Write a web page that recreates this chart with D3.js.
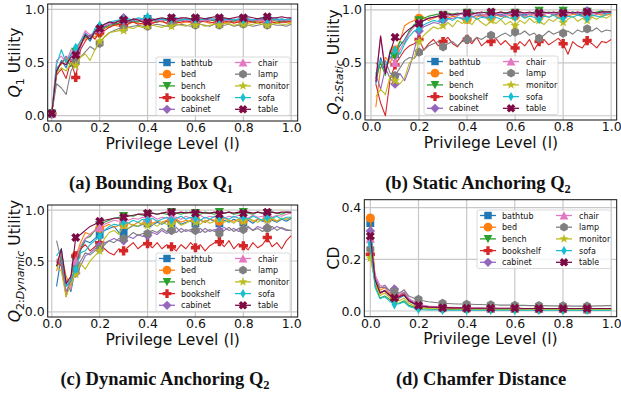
<!DOCTYPE html>
<html>
<head>
<meta charset="utf-8">
<script src="https://cdn.jsdelivr.net/npm/d3@7"></script>
<style>
body { margin: 0; background: #fff; }
svg { display: block; }
</style>
</head>
<body>
<script>
// Nivel de privilegio (eje x), comun a los cuatro paneles
const levels = [0.00,0.02,0.04,0.06,0.08,0.10,0.12,0.14,0.16,0.18,
                0.20,0.22,0.24,0.26,0.28,0.30,0.32,0.34,0.36,0.38,
                0.40,0.42,0.44,0.46,0.48,0.50,0.52,0.54,0.56,0.58,
                0.60,0.62,0.64,0.66,0.68,0.70,0.72,0.74,0.76,0.78,
                0.80,0.82,0.84,0.86,0.88,0.90,0.92,0.94,0.96,0.98,
                1.00];
const categories = ["bathtub","bed","bench","bookshelf","cabinet","chair","lamp","monitor","sofa","table"];
const colors = ["#1f77b4","#ff7f0e","#2ca02c","#d62728","#9467bd","#e377c2","#7f7f7f","#bcbd22","#17becf","#7d0a45"];
const shapes = ["s","o","v","P","D","^","h","*","d","X"];
const xTicks = [0.0,0.2,0.4,0.6,0.8,1.0];
const yTicksUtility = [0.0,0.5,1.0];
const yTicksCD = [0.0,0.2,0.4];
const markerIdx = [0,5,10,15,20,25,30,35,40,45];

// (a) Bounding Box Q1
const q1_bathtub = [0.02,0.40,0.52,0.45,0.58,0.60,0.66,0.75,0.70,0.78, 0.80,0.84,0.83,0.86,0.87,0.88,0.89,0.88,0.89,0.90, 0.91,0.89,0.90,0.91,0.90,0.89,0.90,0.91,0.90,0.89, 0.91,0.90,0.90,0.91,0.89,0.90,0.91,0.90,0.89,0.90, 0.91,0.90,0.90,0.89,0.91,0.90,0.90,0.91,0.90,0.90, 0.91];
const q1_bed = [0.02,0.45,0.48,0.55,0.50,0.57,0.68,0.72,0.76,0.74, 0.78,0.82,0.84,0.85,0.84,0.87,0.86,0.88,0.87,0.86, 0.88,0.87,0.89,0.88,0.87,0.88,0.89,0.87,0.88,0.88, 0.87,0.89,0.88,0.87,0.88,0.89,0.88,0.87,0.88,0.89, 0.88,0.87,0.88,0.89,0.88,0.87,0.88,0.88,0.89,0.88, 0.88];
const q1_bench = [0.02,0.42,0.50,0.53,0.46,0.60,0.70,0.74,0.72,0.80, 0.76,0.83,0.85,0.86,0.87,0.88,0.87,0.89,0.88,0.89, 0.89,0.90,0.88,0.89,0.90,0.89,0.88,0.90,0.89,0.89, 0.90,0.88,0.89,0.90,0.89,0.89,0.90,0.88,0.89,0.90, 0.89,0.89,0.88,0.90,0.89,0.89,0.90,0.89,0.88,0.89, 0.89];
const q1_bookshelf = [0.02,0.38,0.44,0.35,0.52,0.36,0.62,0.70,0.76,0.72, 0.78,0.80,0.83,0.85,0.86,0.85,0.87,0.88,0.86,0.87, 0.88,0.87,0.88,0.89,0.87,0.88,0.87,0.88,0.89,0.88, 0.87,0.88,0.89,0.88,0.87,0.88,0.88,0.89,0.87,0.88, 0.88,0.89,0.88,0.87,0.88,0.89,0.88,0.87,0.88,0.88, 0.89];
const q1_cabinet = [0.02,0.44,0.50,0.56,0.52,0.58,0.64,0.78,0.74,0.79, 0.81,0.84,0.86,0.87,0.89,0.92,0.90,0.89,0.91,0.90, 0.91,0.90,0.89,0.91,0.90,0.91,0.90,0.89,0.91,0.90, 0.90,0.91,0.89,0.90,0.91,0.90,0.89,0.91,0.90,0.90, 0.91,0.90,0.90,0.89,0.91,0.90,0.91,0.90,0.89,0.90, 0.90];
const q1_chair = [0.02,0.52,0.56,0.50,0.62,0.60,0.70,0.80,0.76,0.78, 0.82,0.85,0.87,0.88,0.89,0.90,0.89,0.91,0.90,0.89, 0.90,0.91,0.90,0.89,0.91,0.90,0.90,0.91,0.89,0.90, 0.91,0.90,0.89,0.90,0.91,0.90,0.90,0.89,0.91,0.90, 0.90,0.91,0.90,0.90,0.89,0.91,0.90,0.90,0.91,0.90, 0.90];
const q1_lamp = [0.02,0.30,0.26,0.20,0.42,0.50,0.55,0.60,0.65,0.62, 0.68,0.74,0.78,0.80,0.82,0.82,0.83,0.84,0.85,0.84, 0.84,0.85,0.86,0.85,0.84,0.86,0.85,0.86,0.85,0.84, 0.85,0.86,0.85,0.84,0.86,0.85,0.85,0.86,0.84,0.85, 0.86,0.85,0.84,0.85,0.86,0.85,0.86,0.85,0.85,0.84, 0.86];
const q1_monitor = [0.02,0.40,0.45,0.42,0.50,0.47,0.55,0.58,0.52,0.62, 0.70,0.74,0.78,0.79,0.80,0.80,0.83,0.82,0.84,0.83, 0.84,0.85,0.84,0.83,0.85,0.84,0.86,0.85,0.84,0.86, 0.85,0.86,0.84,0.85,0.86,0.85,0.87,0.86,0.85,0.86, 0.86,0.85,0.86,0.87,0.86,0.85,0.86,0.87,0.86,0.86, 0.87];
const q1_sofa = [0.02,0.48,0.62,0.50,0.58,0.64,0.70,0.77,0.72,0.82, 0.85,0.86,0.88,0.89,0.90,0.90,0.91,0.90,0.92,0.91, 0.93,0.91,0.90,0.91,0.90,0.91,0.92,0.90,0.91,0.90, 0.91,0.90,0.91,0.92,0.90,0.91,0.90,0.91,0.90,0.91, 0.90,0.91,0.90,0.91,0.92,0.90,0.91,0.90,0.91,0.90, 0.91];
const q1_table = [0.02,0.42,0.50,0.48,0.55,0.57,0.66,0.76,0.72,0.79, 0.82,0.86,0.88,0.87,0.89,0.90,0.89,0.91,0.90,0.88, 0.88,0.90,0.91,0.92,0.91,0.92,0.91,0.92,0.92,0.91, 0.92,0.92,0.91,0.92,0.93,0.92,0.92,0.91,0.92,0.93, 0.92,0.93,0.92,0.91,0.92,0.93,0.92,0.92,0.93,0.92, 0.92];

// (b) Static Anchoring Q2
const q2s_bathtub = [null,0.30,0.55,0.40,0.62,0.58,0.66,0.72,0.80,0.86, 0.88,0.90,0.92,0.93,0.94,0.95,0.94,0.96,0.95,0.96, 0.95,0.96,0.97,0.95,0.96,0.97,0.96,0.95,0.97,0.96, 0.97,0.96,0.95,0.97,0.96,0.97,0.96,0.97,0.95,0.96, 0.97,0.96,0.97,0.96,0.95,0.97,0.96,0.97,0.96,0.97, 0.97];
const q2s_bed = [null,0.08,0.45,0.55,0.50,0.62,0.70,0.85,0.88,0.90, 0.92,0.93,0.90,0.92,0.94,0.93,0.92,0.94,0.93,0.92, 0.91,0.94,0.93,0.95,0.94,0.93,0.95,0.94,0.93,0.95, 0.94,0.95,0.93,0.94,0.96,0.94,0.95,0.93,0.95,0.94, 0.95,0.94,0.96,0.95,0.94,0.95,0.94,0.96,0.95,0.95, 0.96];
const q2s_bench = [null,0.35,0.50,0.38,0.60,0.56,0.70,0.68,0.80,0.86, 0.90,0.92,0.94,0.95,0.96,0.95,0.97,0.96,0.97,0.96, 0.97,0.98,0.96,0.97,0.98,0.97,0.96,0.98,0.97,0.98, 0.97,0.98,0.97,0.96,0.98,0.99,0.97,0.98,0.97,0.98, 0.99,0.97,0.98,0.97,0.98,0.98,0.97,0.98,0.99,0.98, 0.98];
const q2s_bookshelf = [null,0.30,0.12,0.00,0.35,0.48,0.55,0.62,0.66,0.68, 0.72,0.62,0.68,0.72,0.66,0.70,0.74,0.68,0.65,0.71, 0.72,0.68,0.74,0.66,0.70,0.70,0.73,0.67,0.71,0.66, 0.64,0.70,0.66,0.72,0.62,0.70,0.72,0.67,0.70,0.73, 0.68,0.58,0.70,0.66,0.64,0.71,0.68,0.64,0.70,0.69, 0.72];
const q2s_cabinet = [null,0.40,0.25,0.45,0.35,0.30,0.40,0.33,0.45,0.62, 0.80,0.84,0.86,0.88,0.87,0.90,0.91,0.92,0.93,0.92, 0.94,0.93,0.95,0.94,0.93,0.95,0.96,0.94,0.95,0.96, 0.95,0.96,0.94,0.96,0.97,0.95,0.96,0.97,0.96,0.97, 0.96,0.97,0.98,0.96,0.97,0.99,0.97,0.96,0.98,0.97, 0.98];
const q2s_chair = [null,0.35,0.76,0.45,0.55,0.50,0.62,0.70,0.78,0.84, 0.88,0.90,0.92,0.93,0.94,0.95,0.94,0.96,0.95,0.96, 0.96,0.95,0.97,0.96,0.95,0.97,0.96,0.97,0.95,0.96, 0.97,0.96,0.97,0.96,0.95,0.97,0.96,0.97,0.96,0.97, 0.96,0.97,0.96,0.98,0.97,0.96,0.97,0.96,0.97,0.98, 0.97];
const q2s_lamp = [null,0.50,0.45,0.52,0.40,0.38,0.45,0.52,0.55,0.54, 0.60,0.62,0.66,0.68,0.70,0.65,0.68,0.70,0.66,0.70, 0.72,0.70,0.74,0.72,0.75,0.76,0.73,0.76,0.78,0.75, 0.79,0.77,0.80,0.76,0.78,0.73,0.76,0.80,0.77,0.79, 0.78,0.80,0.77,0.81,0.79,0.82,0.80,0.83,0.79,0.81, 0.80];
const q2s_monitor = [null,0.18,0.25,0.20,0.38,0.33,0.30,0.36,0.50,0.55, 0.70,0.76,0.80,0.84,0.82,0.85,0.88,0.84,0.90,0.87, 0.90,0.86,0.92,0.88,0.85,0.90,0.87,0.91,0.86,0.89, 0.85,0.90,0.87,0.92,0.88,0.90,0.86,0.91,0.89,0.93, 0.88,0.91,0.94,0.89,0.92,0.90,0.93,0.91,0.94,0.92, 0.95];
const q2s_sofa = [null,0.40,0.52,0.48,0.55,0.62,0.58,0.68,0.75,0.80, 0.82,0.86,0.88,0.90,0.89,0.91,0.92,0.90,0.93,0.91, 0.92,0.94,0.91,0.93,0.92,0.94,0.93,0.91,0.94,0.92, 0.93,0.95,0.92,0.94,0.93,0.91,0.94,0.93,0.95,0.92, 0.92,0.94,0.93,0.95,0.94,0.92,0.95,0.94,0.93,0.96, 0.97];
const q2s_table = [null,0.32,0.75,0.40,0.60,0.74,0.72,0.78,0.82,0.85, 0.87,0.90,0.92,0.93,0.94,0.95,0.96,0.95,0.96,0.97, 0.97,0.96,0.97,0.98,0.97,0.98,0.97,0.98,0.97,0.98, 0.97,0.98,0.97,0.98,0.97,0.97,0.98,0.97,0.98,0.97, 0.97,0.98,0.97,0.98,0.97,0.98,0.98,0.97,0.98,0.98, 0.98];

// (c) Dynamic Anchoring Q2
const q2d_bathtub = [null,0.25,0.55,0.30,0.20,0.45,0.60,0.70,0.68,0.72, 0.76,0.80,0.82,0.84,0.78,0.78,0.82,0.85,0.84,0.86, 0.87,0.85,0.88,0.86,0.89,0.87,0.90,0.86,0.88,0.89, 0.87,0.90,0.88,0.91,0.89,0.87,0.90,0.88,0.91,0.89, 0.88,0.90,0.87,0.91,0.89,0.92,0.90,0.88,0.91,0.89, 0.92];
const q2d_bed = [null,0.40,0.58,0.35,0.25,0.55,0.68,0.78,0.76,0.80, 0.82,0.84,0.86,0.83,0.85,0.86,0.87,0.85,0.88,0.86, 0.88,0.87,0.89,0.88,0.90,0.89,0.91,0.88,0.90,0.89, 0.91,0.90,0.88,0.91,0.90,0.89,0.92,0.90,0.89,0.91, 0.90,0.92,0.89,0.91,0.90,0.92,0.91,0.89,0.92,0.91, 0.93];
const q2d_bench = [null,0.45,0.52,0.28,0.22,0.50,0.62,0.72,0.74,0.80, 0.85,0.88,0.90,0.92,0.93,0.94,0.95,0.94,0.96,0.95, 0.96,0.97,0.96,0.97,0.96,0.98,0.97,0.96,0.98,0.97, 0.97,0.96,0.98,0.97,0.96,0.98,0.97,0.98,0.96,0.97, 0.98,0.97,0.96,0.98,0.97,0.97,0.98,0.97,0.96,0.98, 0.97];
const q2d_bookshelf = [null,0.50,0.45,0.15,0.35,0.55,0.62,0.66,0.60,0.64, 0.68,0.62,0.58,0.56,0.62,0.60,0.64,0.68,0.62,0.66, 0.67,0.63,0.68,0.62,0.66,0.64,0.60,0.66,0.62,0.68, 0.63,0.66,0.60,0.65,0.68,0.69,0.64,0.70,0.62,0.67, 0.65,0.61,0.68,0.63,0.66,0.73,0.64,0.68,0.62,0.70, 0.75];
const q2d_cabinet = [null,0.52,0.48,0.20,0.30,0.38,0.45,0.55,0.58,0.62, 0.65,0.68,0.70,0.72,0.70,0.70,0.74,0.72,0.76,0.74, 0.75,0.78,0.76,0.80,0.77,0.80,0.78,0.82,0.79,0.81, 0.80,0.78,0.82,0.79,0.81,0.80,0.83,0.80,0.82,0.79, 0.81,0.83,0.80,0.84,0.82,0.83,0.81,0.84,0.82,0.80, 0.80];
const q2d_chair = [null,0.48,0.60,0.30,0.22,0.50,0.65,0.72,0.76,0.80, 0.83,0.86,0.88,0.90,0.89,0.91,0.90,0.92,0.91,0.93, 0.92,0.94,0.91,0.93,0.92,0.94,0.93,0.91,0.94,0.92, 0.93,0.95,0.92,0.94,0.93,0.95,0.92,0.94,0.93,0.95, 0.94,0.92,0.95,0.93,0.94,0.96,0.93,0.95,0.94,0.96, 0.97];
const q2d_lamp = [null,0.70,0.50,0.25,0.30,0.42,0.50,0.58,0.56,0.60, 0.62,0.66,0.70,0.68,0.72,0.72,0.74,0.78,0.75,0.77, 0.77,0.80,0.78,0.82,0.79,0.80,0.83,0.78,0.81,0.79, 0.80,0.82,0.78,0.81,0.79,0.77,0.80,0.83,0.79,0.82, 0.81,0.84,0.80,0.82,0.79,0.82,0.84,0.80,0.83,0.81, 0.80];
const q2d_monitor = [null,0.45,0.40,0.15,0.28,0.37,0.48,0.42,0.50,0.55, 0.60,0.72,0.78,0.80,0.76,0.85,0.82,0.86,0.84,0.88, 0.85,0.87,0.84,0.88,0.86,0.86,0.89,0.85,0.87,0.90, 0.88,0.86,0.90,0.87,0.89,0.91,0.88,0.90,0.87,0.91, 0.89,0.92,0.90,0.88,0.91,0.90,0.93,0.89,0.92,0.91, 0.93];
const q2d_sofa = [null,0.55,0.62,0.25,0.32,0.42,0.58,0.60,0.66,0.70, 0.74,0.80,0.84,0.86,0.85,0.88,0.87,0.90,0.88,0.91, 0.90,0.92,0.89,0.91,0.93,0.90,0.92,0.94,0.91,0.93, 0.92,0.90,0.93,0.91,0.94,0.92,0.93,0.91,0.94,0.92, 0.93,0.91,0.94,0.92,0.90,0.93,0.92,0.94,0.91,0.93, 0.93];
const q2d_table = [null,0.45,0.62,0.28,0.35,0.73,0.76,0.80,0.84,0.86, 0.89,0.90,0.91,0.92,0.92,0.93,0.94,0.95,0.96,0.96, 0.97,0.97,0.96,0.97,0.98,0.98,0.97,0.98,0.97,0.98, 0.97,0.98,0.97,0.97,0.98,0.96,0.97,0.98,0.97,0.98, 0.97,0.98,0.97,0.98,0.97,0.98,0.98,0.97,0.98,0.98, 0.98];

// (d) Chamfer Distance
const cd_bathtub = [0.340,0.120,0.070,0.080,0.060,0.058,0.050,0.060,0.038,0.028, 0.020,0.017,0.015,0.014,0.013,0.012,0.011,0.011,0.010,0.010, 0.010,0.009,0.009,0.009,0.009,0.008,0.008,0.008,0.008,0.008, 0.008,0.008,0.007,0.007,0.007,0.007,0.007,0.007,0.007,0.007, 0.007,0.007,0.007,0.007,0.006,0.006,0.006,0.006,0.006,0.006, 0.006];
const cd_bed = [0.360,0.130,0.080,0.090,0.068,0.062,0.058,0.070,0.045,0.032, 0.022,0.019,0.017,0.015,0.014,0.013,0.012,0.012,0.011,0.011, 0.011,0.010,0.010,0.010,0.009,0.009,0.009,0.009,0.009,0.009, 0.009,0.008,0.008,0.008,0.008,0.008,0.008,0.008,0.008,0.008, 0.008,0.008,0.007,0.007,0.007,0.007,0.007,0.007,0.007,0.007, 0.007];
const cd_bench = [0.270,0.100,0.050,0.058,0.045,0.032,0.030,0.040,0.022,0.016, 0.011,0.009,0.008,0.007,0.007,0.006,0.006,0.006,0.005,0.005, 0.005,0.005,0.005,0.005,0.005,0.005,0.005,0.005,0.005,0.005, 0.005,0.005,0.005,0.005,0.005,0.005,0.005,0.005,0.005,0.005, 0.004,0.004,0.004,0.004,0.004,0.004,0.004,0.004,0.004,0.004, 0.004];
const cd_bookshelf = [0.220,0.110,0.068,0.078,0.060,0.050,0.058,0.066,0.040,0.030, 0.020,0.017,0.015,0.014,0.013,0.012,0.012,0.011,0.011,0.011, 0.010,0.010,0.010,0.010,0.010,0.010,0.010,0.010,0.010,0.010, 0.010,0.010,0.009,0.009,0.009,0.009,0.009,0.009,0.009,0.009, 0.009,0.009,0.009,0.009,0.009,0.009,0.009,0.009,0.009,0.009, 0.009];
const cd_cabinet = [0.310,0.130,0.090,0.100,0.078,0.085,0.062,0.072,0.045,0.034, 0.025,0.021,0.018,0.016,0.015,0.014,0.013,0.013,0.012,0.012, 0.012,0.011,0.011,0.011,0.011,0.010,0.010,0.010,0.010,0.010, 0.010,0.010,0.010,0.009,0.009,0.009,0.009,0.009,0.009,0.009, 0.009,0.009,0.009,0.009,0.009,0.009,0.009,0.009,0.009,0.009, 0.009];
const cd_chair = [0.280,0.140,0.100,0.092,0.072,0.070,0.062,0.082,0.050,0.038, 0.026,0.022,0.019,0.017,0.016,0.015,0.014,0.014,0.013,0.013, 0.012,0.012,0.012,0.012,0.011,0.011,0.011,0.011,0.011,0.011, 0.011,0.011,0.010,0.010,0.010,0.010,0.010,0.010,0.010,0.010, 0.010,0.010,0.010,0.010,0.010,0.010,0.010,0.010,0.010,0.010, 0.010];
const cd_lamp = [0.240,0.120,0.090,0.092,0.080,0.075,0.070,0.082,0.058,0.050, 0.045,0.040,0.036,0.034,0.032,0.030,0.029,0.028,0.027,0.027, 0.026,0.026,0.025,0.025,0.024,0.024,0.024,0.023,0.023,0.023, 0.022,0.022,0.022,0.021,0.021,0.021,0.021,0.020,0.020,0.020, 0.020,0.020,0.019,0.019,0.019,0.019,0.019,0.020,0.020,0.021, 0.021];
const cd_monitor = [0.205,0.110,0.060,0.070,0.052,0.045,0.040,0.050,0.030,0.020, 0.014,0.012,0.010,0.009,0.009,0.008,0.008,0.008,0.007,0.007, 0.007,0.007,0.007,0.007,0.007,0.007,0.007,0.007,0.007,0.007, 0.007,0.007,0.007,0.006,0.006,0.006,0.006,0.006,0.006,0.006, 0.006,0.006,0.006,0.006,0.006,0.006,0.006,0.006,0.006,0.006, 0.006];
const cd_sofa = [0.260,0.090,0.048,0.055,0.038,0.025,0.028,0.035,0.018,0.012, 0.007,0.005,0.004,0.004,0.004,0.003,0.003,0.003,0.003,0.003, 0.003,0.003,0.003,0.003,0.003,0.003,0.003,0.003,0.003,0.003, 0.003,0.003,0.003,0.003,0.003,0.003,0.003,0.003,0.003,0.003, 0.003,0.003,0.003,0.003,0.003,0.003,0.003,0.003,0.003,0.003, 0.003];
const cd_table = [0.290,0.120,0.072,0.078,0.062,0.050,0.055,0.062,0.040,0.030, 0.021,0.018,0.016,0.015,0.014,0.013,0.013,0.012,0.012,0.012, 0.011,0.011,0.011,0.011,0.011,0.011,0.011,0.011,0.011,0.011, 0.011,0.011,0.010,0.010,0.010,0.010,0.010,0.010,0.010,0.010, 0.010,0.010,0.010,0.010,0.010,0.010,0.010,0.010,0.010,0.010, 0.010];

var W = 621, H = 395;
var svg = d3.select("body").append("svg")
            .attr("width", W).attr("height", H)
            .style("font-family", "'DejaVu Sans', sans-serif");

// Paneles: posiciones del area de datos y textos
var panels = [
  { id: "a", series: [q1_bathtub,q1_bed,q1_bench,q1_bookshelf,q1_cabinet,q1_chair,q1_lamp,q1_monitor,q1_sofa,q1_table],
    left: 47.7, right: 297.7, top: 4, bottom: 121, xDom: [-0.017, 1.027], yDom: [-0.05, 1.05], yTicks: yTicksUtility,
    legend: [156, 57], ylab: [20, 62.5], ysub: "1", yital: "", ytail: " Utility",
    title: [151, 189, "(a) Bounding Box Q", "1"] },
  { id: "b", series: [q2s_bathtub,q2s_bed,q2s_bench,q2s_bookshelf,q2s_cabinet,q2s_chair,q2s_lamp,q2s_monitor,q2s_sofa,q2s_table],
    left: 365, right: 616.7, top: 4.5, bottom: 120, xDom: [-0.025, 1.023], yDom: [-0.04, 1.05], yTicks: yTicksUtility,
    legend: [424, 56], ylab: [339, 62], ysub: "2:", yital: "Static", ytail: " Utility",
    title: [478, 189, "(b) Static Anchoring Q", "2"] },
  { id: "c", series: [q2d_bathtub,q2d_bed,q2d_bench,q2d_bookshelf,q2d_cabinet,q2d_chair,q2d_lamp,q2d_monitor,q2d_sofa,q2d_table],
    left: 47.7, right: 297.7, top: 205, bottom: 317, xDom: [-0.017, 1.027], yDom: [-0.05, 1.05], yTicks: yTicksUtility,
    legend: [156, 253], ylab: [20, 261], ysub: "2:", yital: "Dynamic", ytail: " Utility",
    title: [165, 385, "(c) Dynamic Anchoring Q", "2"] },
  { id: "d", series: [cd_bathtub,cd_bed,cd_bench,cd_bookshelf,cd_cabinet,cd_chair,cd_lamp,cd_monitor,cd_sofa,cd_table],
    left: 364.3, right: 616.7, top: 199.7, bottom: 316.7, xDom: [-0.025, 1.023], yDom: [-0.022, 0.431], yTicks: yTicksCD,
    legend: [477, 210], ylab: [339, 258], ysub: null, yital: "", ytail: "CD",
    title: [481, 385, "(d) Chamfer Distance", null] }
];

// Formas de marcador al estilo matplotlib
function markerPath(shape, k) {
  var r = 4.6 * k;
  function poly(pts) { return "M" + pts.map(function(p) { return p[0].toFixed(2) + "," + p[1].toFixed(2); }).join("L") + "Z"; }
  function rot(pts, a) { var c = Math.cos(a), s = Math.sin(a); return pts.map(function(p) { return [p[0]*c - p[1]*s, p[0]*s + p[1]*c]; }); }
  var t = r * 0.38;
  var plus = [[-r,-t],[-t,-t],[-t,-r],[t,-r],[t,-t],[r,-t],[r,t],[t,t],[t,r],[-t,r],[-t,t],[-r,t]];
  switch (shape) {
    case "s": return poly([[-r*0.85,-r*0.85],[r*0.85,-r*0.85],[r*0.85,r*0.85],[-r*0.85,r*0.85]]);
    case "o": return d3.symbol(d3.symbolCircle, Math.PI * r * r)();
    case "v": return poly([[-r,-r*0.9],[r,-r*0.9],[0,r]]);
    case "^": return poly([[0,-r],[r,r*0.9],[-r,r*0.9]]);
    case "P": return poly(plus);
    case "X": return poly(rot(plus, Math.PI / 4));
    case "D": return poly([[0,-r*1.05],[r*1.05,0],[0,r*1.05],[-r*1.05,0]]);
    case "d": return poly([[0,-r*1.05],[r*0.62,0],[0,r*1.05],[-r*0.62,0]]);
    case "h": return poly(d3.range(6).map(function(i) { var a = Math.PI/3*i - Math.PI/2; return [r*Math.cos(a), r*Math.sin(a)]; }));
    case "*": return poly(d3.range(10).map(function(i) { var a = Math.PI/5*i - Math.PI/2, rr = i % 2 ? r*0.45 : r*1.1; return [rr*Math.cos(a), rr*Math.sin(a)]; }));
  }
}

panels.forEach(function(p) {
  var x = d3.scaleLinear().domain(p.xDom).range([p.left, p.right]);
  var y = d3.scaleLinear().domain(p.yDom).range([p.bottom, p.top]);
  var g = svg.append("g");

  g.append("clipPath").attr("id", "clip-" + p.id)
   .append("rect").attr("x", p.left).attr("y", p.top)
   .attr("width", p.right - p.left).attr("height", p.bottom - p.top);

  // rejilla
  g.selectAll(".gx").data(xTicks).enter().append("line")
   .attr("x1", d => x(d)).attr("x2", d => x(d)).attr("y1", p.top).attr("y2", p.bottom)
   .attr("stroke", "#c8c8c8").attr("stroke-width", 1.2);
  g.selectAll(".gy").data(p.yTicks).enter().append("line")
   .attr("x1", p.left).attr("x2", p.right).attr("y1", d => y(d)).attr("y2", d => y(d))
   .attr("stroke", "#c8c8c8").attr("stroke-width", 1.2);

  // series
  var plot = g.append("g").attr("clip-path", "url(#clip-" + p.id + ")");
  var line = d3.line().defined(d => d[1] != null).x(d => x(d[0])).y(d => y(d[1]));
  p.series.forEach(function(vals, i) {
    var pts = levels.map((l, j) => [l, vals[j]]);
    plot.append("path").datum(pts)
        .attr("fill", "none").attr("stroke", colors[i]).attr("stroke-width", 1.1)
        .attr("stroke-linejoin", "round").attr("d", line);
    plot.selectAll(".m" + i).data(markerIdx.filter(j => vals[j] != null)).enter().append("path")
        .attr("transform", j => "translate(" + x(levels[j]) + "," + y(vals[j]) + ")")
        .attr("d", markerPath(shapes[i], 1)).attr("fill", colors[i]);
  });

  // marco
  g.append("rect").attr("x", p.left).attr("y", p.top)
   .attr("width", p.right - p.left).attr("height", p.bottom - p.top)
   .attr("fill", "none").attr("stroke", "#111").attr("stroke-width", 1);

  // ejes
  var ax = g.append("g").attr("transform", "translate(0," + p.bottom + ")")
            .call(d3.axisBottom(x).tickValues(xTicks).tickFormat(d3.format(".1f")).tickSize(0).tickPadding(2.5));
  ax.select(".domain").remove();
  ax.selectAll("text").attr("font-size", 12.5).attr("font-family", "'DejaVu Sans'").attr("fill", "#111");
  var ay = g.append("g").attr("transform", "translate(" + p.left + ",0)")
            .call(d3.axisLeft(y).tickValues(p.yTicks).tickFormat(d3.format(".1f")).tickSize(0).tickPadding(3));
  ay.select(".domain").remove();
  ay.selectAll("text").attr("font-size", 12.5).attr("font-family", "'DejaVu Sans'").attr("fill", "#111");

  g.append("text").attr("x", (p.left + p.right) / 2).attr("y", p.bottom + 27.5)
   .attr("text-anchor", "middle").attr("font-size", 15.6).attr("fill", "#111")
   .text("Privilege Level (l)");

  // etiqueta y
  var yl = g.append("text").attr("transform", "translate(" + p.ylab[0] + "," + p.ylab[1] + ") rotate(-90)")
            .attr("text-anchor", "middle").attr("font-size", 15.6).attr("fill", "#111");
  if (p.ysub != null) {
    yl.append("tspan").attr("font-style", "italic").text("Q");
    yl.append("tspan").attr("font-size", 11).attr("dy", 3.5).text(p.ysub);
    if (p.yital) yl.append("tspan").attr("font-size", 11).attr("font-style", "italic").text(p.yital);
    yl.append("tspan").attr("dy", -3.5).text(p.ytail);
  } else {
    yl.text(p.ytail);
  }

  // leyenda
  var lg = g.append("g").attr("transform", "translate(" + p.legend[0] + "," + p.legend[1] + ")");
  lg.append("rect").attr("x", 0).attr("y", 0).attr("width", 134).attr("height", 58.5)
    .attr("rx", 2).attr("fill", "#fff").attr("fill-opacity", 0.8)
    .attr("stroke", "#d0d0d0").attr("stroke-width", 0.8);
  categories.forEach(function(c, i) {
    var col = Math.floor(i / 5), row = i % 5;
    var hx = col ? 87 : 11, ty = 5.5 + row * 11.7;
    lg.append("line").attr("x1", hx - 8).attr("x2", hx + 8).attr("y1", ty).attr("y2", ty)
      .attr("stroke", colors[i]).attr("stroke-width", 1.3);
    lg.append("path").attr("transform", "translate(" + hx + "," + ty + ")")
      .attr("d", markerPath(shapes[i], 0.95)).attr("fill", colors[i]);
    lg.append("text").attr("x", col ? 102 : 25).attr("y", ty + 3)
      .attr("font-size", 8).attr("fill", "#111").text(c);
  });

  // titulo del subpanel
  var tt = svg.append("text").attr("x", p.title[0]).attr("y", p.title[1])
              .attr("text-anchor", "middle").attr("font-family", "'Liberation Serif', serif")
              .attr("font-weight", "bold").attr("font-size", 18.5).attr("fill", "#111");
  tt.append("tspan").text(p.title[2]);
  if (p.title[3]) tt.append("tspan").attr("font-size", 12.5).attr("dy", 4).text(p.title[3]);
});
</script>
</body>
</html>
